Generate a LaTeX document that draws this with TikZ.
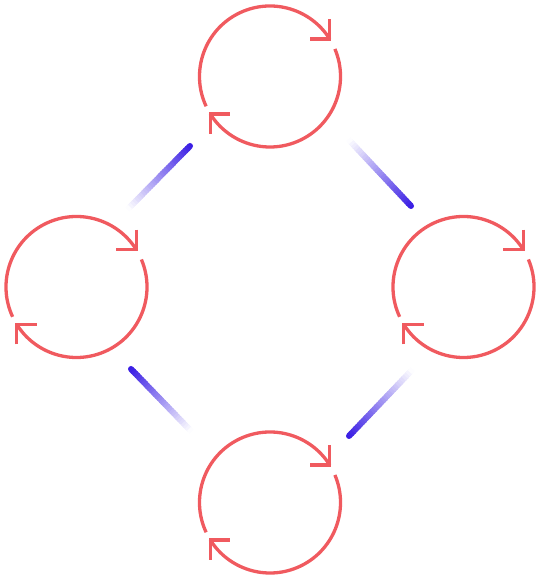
\documentclass[tikz,border=0pt]{standalone}
\usepackage{tikz}
\usetikzlibrary{calc}

\definecolor{ringred}{RGB}{240,90,95}
\definecolor{flowblue}{RGB}{58,30,228}

% fading stroke from a dark end (#1) to a faded end (#2)
\newcommand{\flowline}[2]{%
  \fill[flowblue] (#1) circle (3pt);
  \foreach \i in {0,...,29} {
    \pgfmathtruncatemacro{\p}{100-100*(\i+0.5)/30}
    \draw[line width=6pt, draw=flowblue!\p!white]
      ($(#1)!\i/30!(#2)$) -- ($(#1)!{(\i+1.4)/30}!(#2)$);
  }}

\begin{document}
\begin{tikzpicture}[x=1pt, y=1pt,
    ring/.style={draw=ringred, line width=3.3pt, line join=miter}]
    \useasboundingbox (0,0) rectangle (540,580);

    % Cycle centres
    \coordinate (ctop)   at (270,503.5);
    \coordinate (cleft)  at (76.5,293);
    \coordinate (cright) at (463.5,293);
    \coordinate (cbot)   at (270,77.5);

    % Circular arrows
    \foreach \c in {ctop, cleft, cright, cbot} {
      \draw[ring] ($(\c)+(205:70.5pt)$) arc[start angle=205, end angle=32, radius=70.5pt];
      \draw[ring] ($(\c)+(32:70.5pt)+(0,20)$) -- ++(0,-20) -- ++(-20,0);
      \draw[ring] ($(\c)+(23:70.5pt)$) arc[start angle=23, end angle=-148, radius=70.5pt];
      \draw[ring] ($(\c)+(212:70.5pt)+(0,-20)$) -- ++(0,20) -- ++(20,0);
    }

    % Flow strokes between the cycles
    \coordinate (tl-a) at (190,434);  \coordinate (tl-b) at (128,371);
    \coordinate (tr-a) at (411,374);  \coordinate (tr-b) at (349,440);
    \coordinate (br-a) at (349,144);  \coordinate (br-b) at (412,210);
    \coordinate (bl-a) at (131,211);  \coordinate (bl-b) at (191,149);

    \flowline{tl-a}{tl-b}
    \flowline{tr-a}{tr-b}
    \flowline{br-a}{br-b}
    \flowline{bl-a}{bl-b}

\end{tikzpicture}
\end{document}
